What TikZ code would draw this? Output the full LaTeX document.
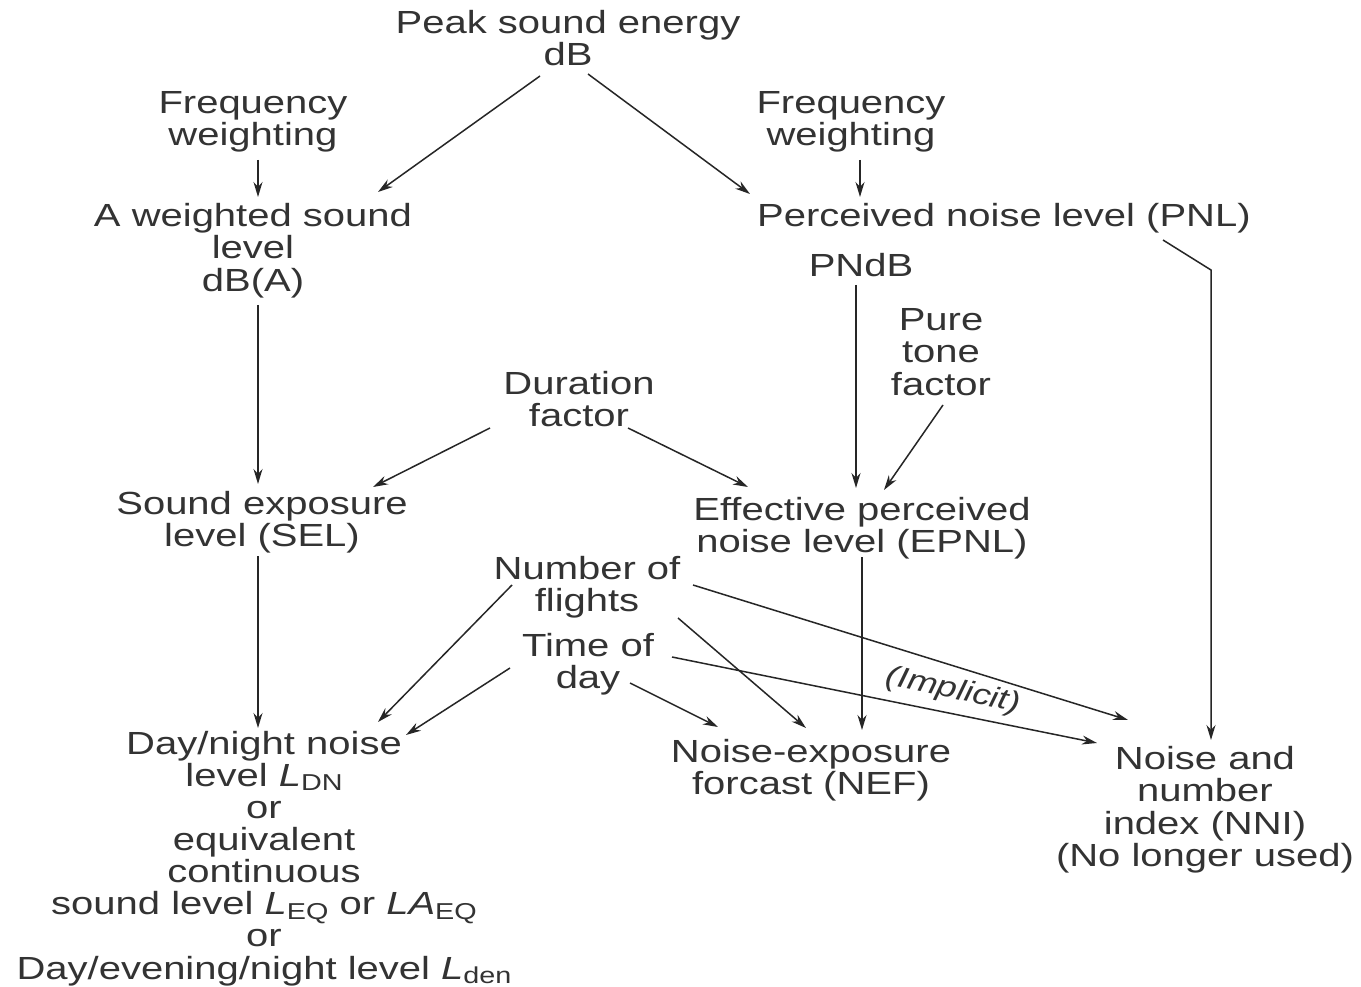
\documentclass[tikz,border=0pt]{standalone}
\usepackage{fontspec}
\setmainfont{Liberation Sans}[FakeStretch=1.25]
\usetikzlibrary{arrows.meta}
% italic symbol with a lowered, smaller upright index
\newcommand\lsub[2]{\textit{#1}\raisebox{-4.5pt}{\fontsize{23}{23}\selectfont #2}}

\begin{document}
\begin{tikzpicture}[x=1pt,y=-1pt,
  lbl/.style={anchor=north, inner sep=0pt, align=center, text=black!80,
              font=\fontsize{32}{32.5}\selectfont},
  link/.style={draw=black!85, line width=1.5pt, -{Stealth[length=15pt,width=9pt]}}]

\fill[white] (0,0) rectangle (1361,987);
\useasboundingbox (0,0) rectangle (1361,987);

% quantities and factors
\node[lbl] (peak) at (568,10)  {Peak sound energy\\dB};
\node[lbl] (fwl)  at (253,91)  {Frequency\\weighting};
\node[lbl] (fwr)  at (851,91)  {Frequency\\weighting};
\node[lbl] (aw)   at (253,203) {A weighted sound\\level\\dB(A)};
\node[lbl] (pnl)  at (1004,203) {Perceived noise level (PNL)};
\node[lbl] (pndb) at (861,253) {PNdB};
\node[lbl] (pure) at (941,308) {Pure\\tone\\factor};
\node[lbl] (dur)  at (579,371) {Duration\\factor};
\node[lbl] (sel)  at (262,491) {Sound exposure\\level (SEL)};
\node[lbl] (epnl) at (862,497) {Effective perceived\\noise level (EPNL)};
\node[lbl] (nof)  at (587,556) {Number of\\flights};
\node[lbl] (tod)  at (588,633) {Time of\\day};
\node[lbl, font=\fontsize{32}{32.1}\selectfont] (ldn) at (264,731)
  {Day/night noise\\level \lsub{L}{DN}\\or\\equivalent\\continuous\\
   sound level \lsub{L}{EQ} or \lsub{LA}{EQ}\\or\\Day/evening/night level \lsub{L}{den}};
\node[lbl] (nef)  at (811,739) {Noise-exposure\\forcast (NEF)};
\node[lbl] (nni)  at (1205,746) {Noise and\\number\\index (NNI)\\(No longer used)};

% connectors
\draw[link] ([shift={(-28,66)}]peak.north) -- ([shift={(125,-11)}]aw.north);
\draw[link] ([shift={(20,64)}]peak.north)  -- ([shift={(-254,-9)}]pnl.north);
\draw[link] ([shift={(5,69)}]fwl.north)    -- ([shift={(5,-6)}]aw.north);
\draw[link] ([shift={(9,69)}]fwr.north)    -- ([shift={(-144,-6)}]pnl.north);
\draw[link] ([shift={(5,102)}]aw.north)    -- ([shift={(-4,-7)}]sel.north);
\draw[link] ([shift={(-89,57)}]dur.north)  -- ([shift={(111,-4)}]sel.north);
\draw[link] ([shift={(49,57)}]dur.north)   -- ([shift={(-114,-10)}]epnl.north);
\draw[link] ([shift={(-5,32)}]pndb.north)  -- ([shift={(-6,-9)}]epnl.north);
\draw[link] ([shift={(2,97)}]pure.north)   -- ([shift={(22,-7)}]epnl.north);
\draw[link] ([shift={(159,37)}]pnl.north) -- ++(48,30) -- ([shift={(6,-6)}]nni.north);
\draw[link] ([shift={(-4,65)}]sel.north)   -- ([shift={(-6,-3)}]ldn.north);
\draw[link] ([shift={(-75,29)}]nof.north)  -- ([shift={(114,-9)}]ldn.north);
\draw[link] ([shift={(-78,35)}]tod.north)  -- ([shift={(142,4)}]ldn.north);
\draw[link] ([shift={(42,50)}]tod.north)   -- ([shift={(-93,-12)}]nef.north);
\draw[link] ([shift={(91,62)}]nof.north)   -- ([shift={(-5,-11)}]nef.north);
\draw[link] ([shift={(0,60)}]epnl.north)   -- ([shift={(51,-9)}]nef.north);
\draw[link] ([shift={(106,29)}]nof.north)  -- ([shift={(-77,-26)}]nni.north);
\draw[link] ([shift={(84,24)}]tod.north)   -- ([shift={(-108,-3)}]nni.north);

\node[text=black!80, inner sep=0pt, rotate=-12, font={\fontsize{29}{30}\selectfont\itshape}]
  (impl) at (953,691) {(Implicit)};
\end{tikzpicture}
\end{document}
